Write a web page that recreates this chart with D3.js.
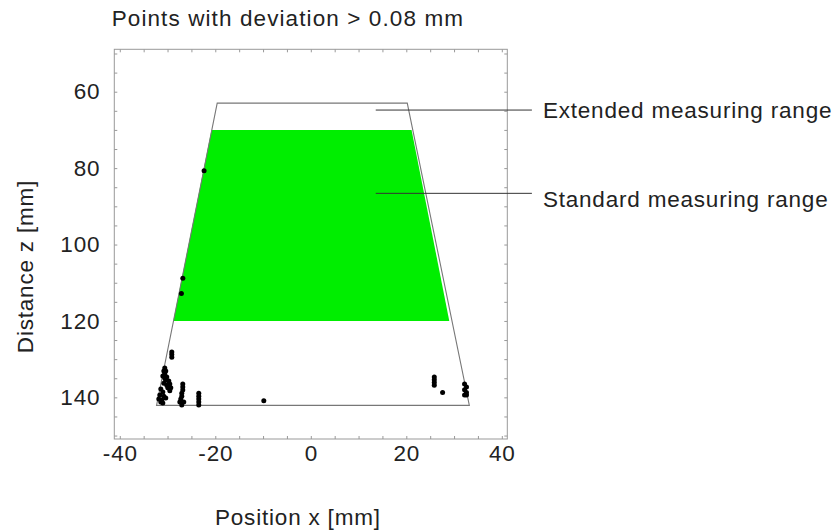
<!DOCTYPE html>
<html lang="en">
<head>
<meta charset="utf-8">
<title>Points with deviation</title>
<script src="https://d3js.org/d3.v7.min.js"></script>
<style>
body { margin: 0; background: #fff; }
svg text { font-family: "Liberation Sans", Arial, sans-serif; fill: #222; font-size: 22.5px; letter-spacing: 0.8px; }
.axis path { display: none; }
.axis line { stroke: #999; }
</style>
</head>
<body>
<div id="chart"></div>
<script>
// outer (extended) and inner (standard) measuring ranges: [x, z] corners
var extendedRange = [[-19.6, 63.0], [20.2, 63.0], [33.2, 142.1], [-32.3, 142.1]];
var standardRange = [[-20.8, 70], [21.1, 70], [29.0, 120], [-28.8, 120]];

// points with deviation > 0.08 mm (x, z)
var pointsX = [-29.11, -29.11, -29.11,
  -30.58, -30.78, -30.37, -30.58, -30.99, -30.16, -30.58,
  -30.37, -29.74, -29.53, -30.16, -30.78, -29.32, -29.95, -29.53,
  -31.41, -30.99, -31.62, -30.78, -31.83, -31.20, -30.37, -31.41, -30.99,
  -26.81, -26.81, -26.81, -27.02, -27.02, -27.23, -27.43, -26.60, -27.02,
  -23.46, -23.46, -23.46, -23.46, -23.46,
  -9.84,
  -22.35, -26.8, -27.1,
  25.86, 25.86, 25.86, 25.86, 27.6,
  32.2, 32.6, 32.2, 32.6, 32.2, 32.6];
var pointsZ = [128.1, 128.8, 129.5,
  132.3, 133.1, 133.1, 133.9, 134.4, 134.7, 135.0,
  135.5, 135.7, 136.5, 136.8, 136.3, 137.5, 137.5, 138.3,
  137.8, 138.6, 139.4, 139.7, 140.4, 140.7, 140.2, 141.2, 141.5,
  136.5, 137.3, 138.1, 138.9, 139.7, 140.4, 141.2, 141.2, 142.0,
  138.9, 139.7, 140.4, 141.2, 142.0,
  140.9,
  80.7, 108.8, 112.8,
  134.7, 135.4, 136.1, 136.8, 138.7,
  136.5, 137.3, 138.0, 138.7, 139.4, 139.4];

var xTicks = d3.range(-40, 41, 5);
var zTicks = d3.range(50, 151, 5);
var labelTicks = [-40, -20, 0, 20, 40, 60, 80, 100, 120, 140];

var leaderNames = ["Extended measuring range", "Standard measuring range"];
var leaderZ = [64.8, 86.6];
var leaderX = [13.6, 46.3];

var W = 835, H = 531;
var margin = { top: 49.3, left: 114.3 };
var width = 393, height = 389.7;

var svg = d3.select('#chart').append('svg')
  .attr('width', W)
  .attr('height', H);

var xScale = d3.scaleLinear().domain([-41.15, 41.15]).range([0, width]);
var zScale = d3.scaleLinear().domain([48.9, 150.9]).range([0, height]);

var g = svg.append('g')
  .attr('transform', 'translate(' + margin.left + ',' + margin.top + ')');

function fmt(d) { return labelTicks.indexOf(d) >= 0 ? d : ''; }
function styleLabels(a) {
  a.selectAll('text').style('font-size', '22.5px').style('font-family', null).attr('fill', '#222');
}

// frame
g.append('rect')
  .attr('width', width).attr('height', height)
  .attr('fill', 'none').attr('stroke', '#999').attr('stroke-width', 1);

g.append('g').attr('class', 'axis')
  .call(d3.axisLeft(zScale).tickValues(zTicks).tickSizeInner(-3).tickSizeOuter(0).tickPadding(14).tickFormat(fmt))
  .call(styleLabels);

g.append('g').attr('class', 'axis')
  .attr('transform', 'translate(' + width + ',0)')
  .call(d3.axisRight(zScale).tickValues(zTicks).tickSizeInner(-3).tickSizeOuter(0).tickFormat(''));

g.append('g').attr('class', 'axis')
  .attr('transform', 'translate(0,' + height + ')')
  .call(d3.axisBottom(xScale).tickValues(xTicks).tickSizeInner(-3).tickSizeOuter(0).tickPadding(6).tickFormat(fmt))
  .call(styleLabels);

g.append('g').attr('class', 'axis')
  .call(d3.axisTop(xScale).tickValues(xTicks).tickSizeInner(-3).tickSizeOuter(0).tickFormat(''));

var line = d3.line()
  .x(function(d) { return xScale(d[0]); })
  .y(function(d) { return zScale(d[1]); })
  .curve(d3.curveLinearClosed);

g.append('path')
  .attr('d', line(standardRange))
  .attr('fill', '#00ee00');

g.append('path')
  .attr('d', line(extendedRange))
  .attr('fill', 'none')
  .attr('stroke', '#777')
  .attr('stroke-width', 1.1);

g.selectAll('circle.pt')
  .data(pointsX)
  .enter()
  .append('circle')
  .attr('class', 'pt')
  .attr('cx', function(d) { return xScale(d); })
  .attr('cy', function(d, i) { return zScale(pointsZ[i]); })
  .attr('r', 2.5)
  .attr('fill', '#000');

// leader lines and labels
leaderNames.forEach(function(name, i) {
  g.append('line')
    .attr('x1', xScale(leaderX[0])).attr('x2', xScale(leaderX[1]))
    .attr('y1', zScale(leaderZ[i])).attr('y2', zScale(leaderZ[i]))
    .attr('stroke', '#333').attr('stroke-width', 1);
  g.append('text')
    .attr('x', xScale(leaderX[1]) + 11)
    .attr('y', zScale(leaderZ[i]) + (i === 0 ? 8.3 : 14))
    .text(name);
});

svg.append('text')
  .attr('x', 111.7).attr('y', 26)
  .style('letter-spacing', '1.1px')
  .text('Points with deviation > 0.08 mm');

svg.append('text')
  .attr('x', 215).attr('y', 525)
  .text('Position x [mm]');

svg.append('text')
  .attr('transform', 'translate(33,266.5) rotate(-90)')
  .attr('text-anchor', 'middle')
  .text('Distance z [mm]');
</script>
</body>
</html>
